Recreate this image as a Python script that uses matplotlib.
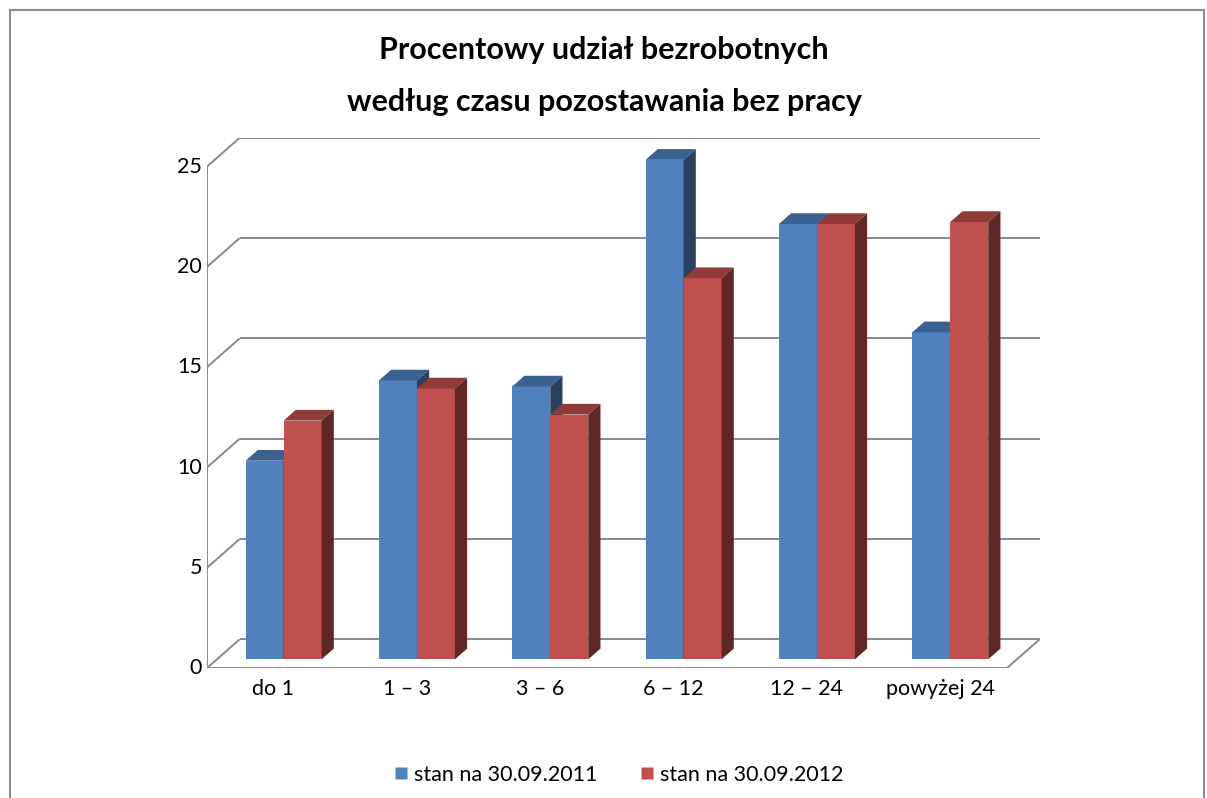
import matplotlib
matplotlib.use("Agg")
import matplotlib.pyplot as plt
from matplotlib.patches import Polygon
from matplotlib.lines import Line2D

# ---- data ----
categories = ["do 1", "1 \u2013 3", "3 \u2013 6", "6 \u2013 12", "12 \u2013 24", "powy\u017cej 24"]
series_names = ["stan na 30.09.2011", "stan na 30.09.2012"]
values_2011 = [9.9, 13.9, 13.6, 24.9, 21.7, 16.3]
values_2012 = [11.9, 13.5, 12.2, 19.0, 21.7, 21.8]
y_ticks = [0, 5, 10, 15, 20, 25]
title_lines = ["Procentowy udzia\u0142 bezrobotnych", "wed\u0142ug czasu pozostawania bez pracy"]

# ---- style ----
FONT = ["Lato", "DejaVu Sans"]
plt.rcParams["font.family"] = FONT
W, H = 1207, 798
fig = plt.figure(figsize=(W / 100, H / 100), dpi=100)

# pixel geometry of the plot box (front-left origin and depth vector)
x0_px, y0_px = 206.7, 668.3          # front-left corner, value 0
cat_px = 133.33                      # pixels per category
unit_px = 20.06                      # pixels per value unit
depth_px = (33.0, -29.0)             # full depth vector in pixels
DX = depth_px[0] / cat_px
DY = -depth_px[1] / unit_px
n = len(categories)
ymax = max(y_ticks)

xlim = (-0.5, n - 0.5 + DX)
ylim = (0, ymax + DY)
ax_w = (xlim[1] - xlim[0]) * cat_px
ax_h = (ylim[1] - ylim[0]) * unit_px
ax = fig.add_axes([x0_px / W, (H - y0_px) / H, ax_w / W, ax_h / H])
ax.set_xlim(*xlim)
ax.set_ylim(*ylim)
ax.axis("off")

grid_c = "#898989"
lw = 1.4
tick_fs = 15.5
# walls / gridlines
xl = -0.5
xr = n - 0.5
for v in y_ticks:
    ax.plot([xl, xl + DX], [v, v + DY], color=grid_c, lw=lw, zorder=1, solid_capstyle="butt")
    ax.plot([xl + DX, xr + DX], [v + DY, v + DY], color=grid_c, lw=lw, zorder=1, solid_capstyle="butt")
    ax.text(xl - 0.035, v, str(v), ha="right", va="center", fontsize=tick_fs, color="#000000")
ax.plot([xl, xl], [0, ymax], color=grid_c, lw=lw, zorder=1)
ax.plot([xl, xr], [0, 0], color=grid_c, lw=lw, zorder=1)
ax.plot([xr, xr + DX], [0, DY], color=grid_c, lw=lw, zorder=1)

# category labels
for i, c in enumerate(categories):
    ax.text(i, -1.05, c, ha="center", va="center", fontsize=tick_fs, color="#000000")

# bars
f0, f1 = 0.31, 0.68
bw = 0.285
colors = [("#4F81BD", "#3B6190", "#29405E"), ("#C0504D", "#8F3B39", "#612727")]
ox0, oy0 = f0 * DX, f0 * DY
ox1, oy1 = f1 * DX, f1 * DY
series = [values_2011, values_2012]
for i in range(n):
    for s, vals in enumerate(series):
        front, top, side = colors[s]
        left = i - bw + s * bw
        v = vals[i]
        z = 3 + i * 2 + s * 0.5
        ax.bar(left + ox0, v, width=bw, bottom=oy0, align="edge",
               color=front, zorder=z, linewidth=0)
        # top face
        ax.add_patch(Polygon([(left + ox0, oy0 + v), (left + bw + ox0, oy0 + v),
                              (left + bw + ox1, oy1 + v), (left + ox1, oy1 + v)],
                             closed=True, facecolor=top, edgecolor="none", zorder=z))
        # side face
        ax.add_patch(Polygon([(left + bw + ox0, oy0), (left + bw + ox1, oy1),
                              (left + bw + ox1, oy1 + v), (left + bw + ox0, oy0 + v)],
                             closed=True, facecolor=side, edgecolor="none", zorder=z))

# title
fig.text(604 / W, 1 - 50 / H, title_lines[0], ha="center", va="center",
         fontsize=22, fontweight="bold", color="#000000")
fig.text(604 / W, 1 - 102 / H, title_lines[1], ha="center", va="center",
         fontsize=22, fontweight="bold", color="#000000")

# legend
leg_handles = [Line2D([], [], marker="s", linestyle="none", markersize=9,
                      markerfacecolor=colors[k][0], markeredgecolor="none") for k in range(2)]
fig.legend(leg_handles, series_names, loc="center", bbox_to_anchor=(618 / W, 1 - 775 / H),
           ncol=2, frameon=False, fontsize=15.5, handletextpad=0.2, columnspacing=1.9,
           handlelength=0.8)

# chart border
bc = "#8C8C8C"
fig.add_artist(Line2D([9.5 / W, 9.5 / W], [0, 1 - 9.5 / H], color=bc, lw=1.5))
fig.add_artist(Line2D([9.5 / W, 1203.5 / W], [1 - 9.5 / H, 1 - 9.5 / H], color=bc, lw=1.5))
fig.add_artist(Line2D([1203.5 / W, 1203.5 / W], [0, 1 - 9.5 / H], color=bc, lw=1.5))

fig.savefig("out.png", dpi=100, facecolor="white")
